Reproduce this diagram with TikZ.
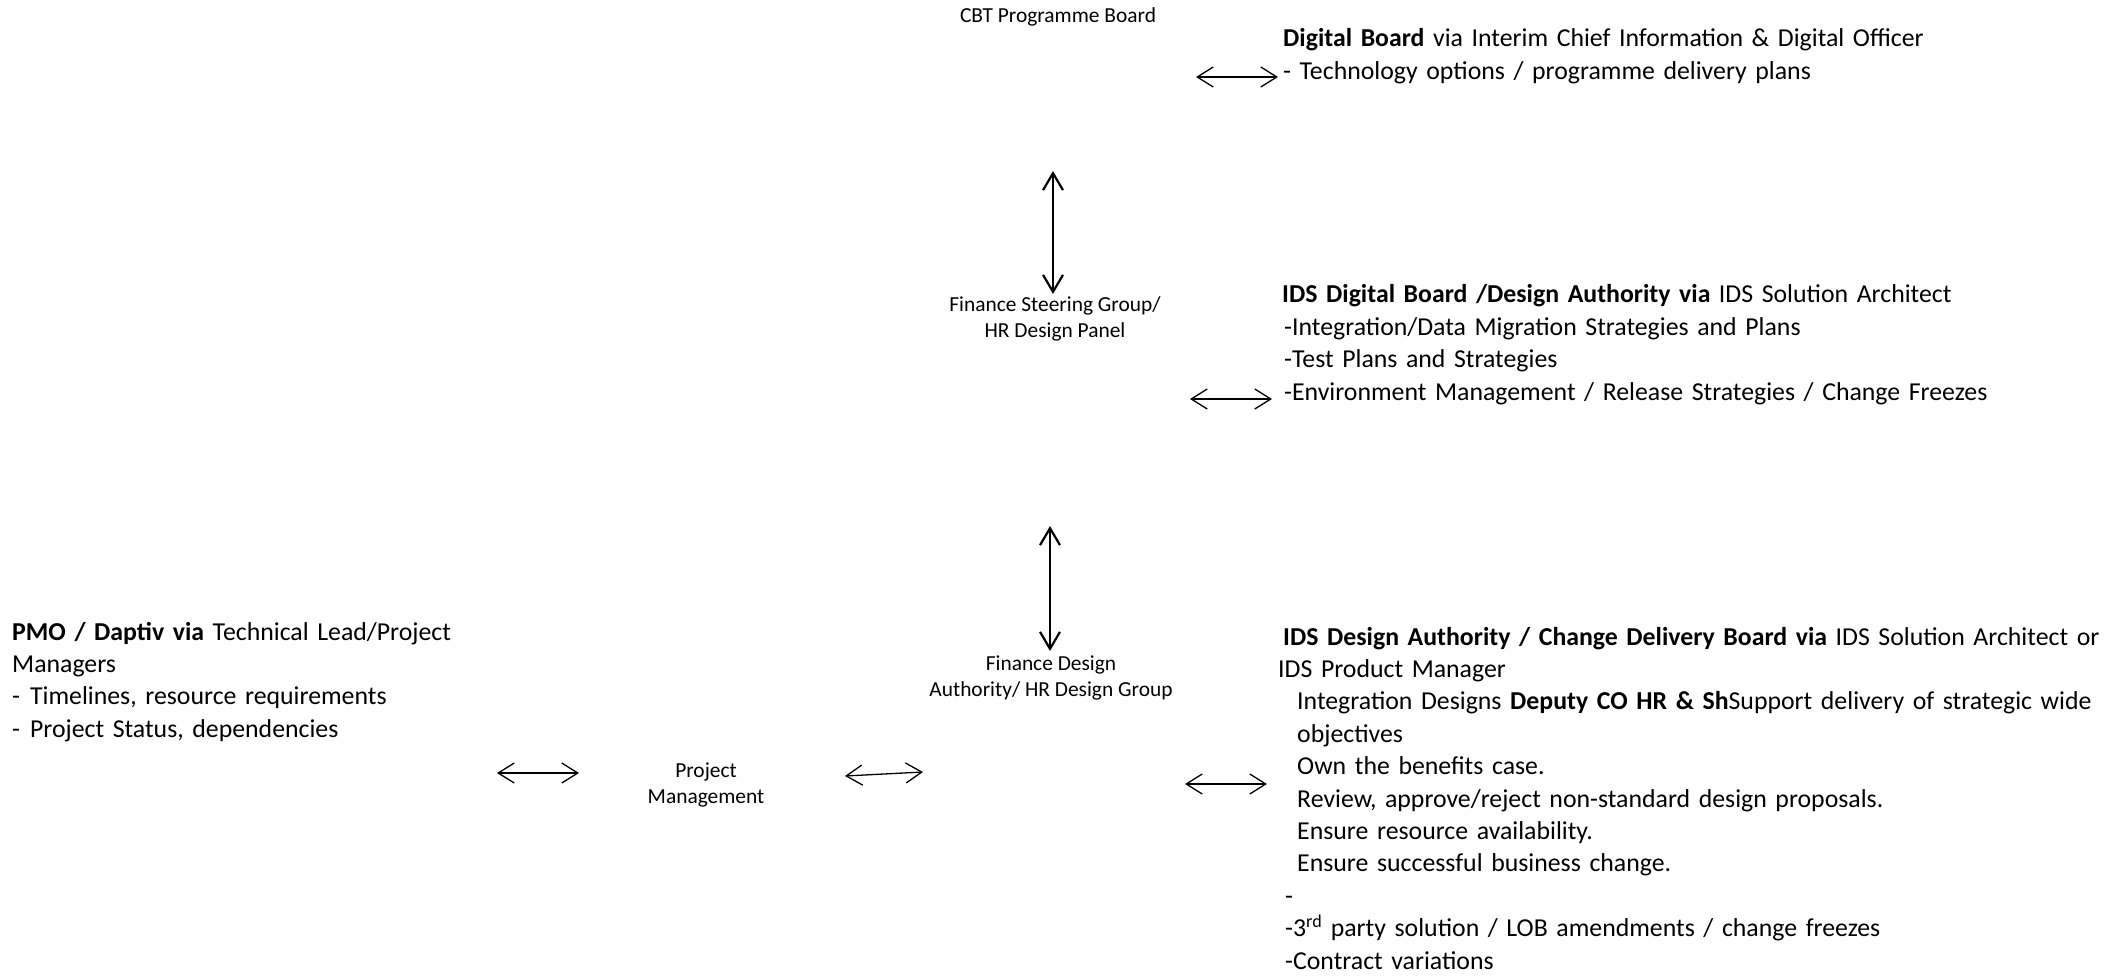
\documentclass[tikz,border=0pt]{standalone}
\usepackage{fontspec}
\setmainfont{Carlito}
\usetikzlibrary{arrows.meta}
\tikzset{
  big/.style={font={\fontsize{25.8}{32.4}\selectfont}, inner sep=0pt, anchor=base west, align=left, text width=900pt},
  small/.style={font={\fontsize{21.4}{25.5}\selectfont}, inner sep=0pt, align=center},
  harrow/.style={{Straight Barb[length=16pt,width=20pt]}-{Straight Barb[length=16pt,width=20pt]}, line width=1.3pt},
  varrow/.style={{Straight Barb[length=17pt,width=20pt]}-{Straight Barb[length=17pt,width=20pt]}, line width=2.2pt},
}
\begin{document}
\begin{tikzpicture}[x=1pt,y=-1pt]
\useasboundingbox[fill=white] (0,0) rectangle (2105,976);
% small labels
\node[small] (cbt) at (1058,17) {CBT Programme Board};
\node[small] (fsg) at (1055,319) {Finance Steering Group/\\HR Design Panel};
\node[small] (fda) at (1051,678) {Finance Design\\Authority/ HR Design Group};
\node[small] (pm) at (706,785) {Project\\Management};
% text blocks
\node[big] (db) at (1283,47) {\textbf{Digital Board} via Interim Chief Information \& Digital Officer\\
- Technology options / programme delivery plans};
\node[big] (idsdb) at (1282,303) {\textbf{IDS Digital Board /Design Authority via} IDS Solution Architect\\
\hspace*{2pt}-Integration/Data Migration Strategies and Plans\\
\hspace*{2pt}-Test Plans and Strategies\\
\hspace*{2pt}-Environment Management / Release Strategies / Change Freezes};
\node[big] (idsda) at (1278,645) {\hspace*{5pt}\textbf{IDS Design Authority / Change Delivery Board via} IDS Solution Architect or\\
IDS Product Manager\\
\hspace*{19pt}Integration Designs \textbf{Deputy CO HR \& Sh}Support delivery of strategic wide\\
\hspace*{19pt}objectives\\
\hspace*{19pt}Own the benefits case.\\
\hspace*{19pt}Review, approve/reject non-standard design proposals.\\
\hspace*{19pt}Ensure resource availability.\\
\hspace*{19pt}Ensure successful business change.\\
\hspace*{7pt}-\\
\hspace*{7pt}-3\textsuperscript{rd} party solution / LOB amendments / change freezes\\
\hspace*{7pt}-Contract variations};
\node[big] (pmo) at (12,640) {\textbf{PMO / Daptiv via} Technical Lead/Project\\
Managers\\
-\hspace{10pt}Timelines, resource requirements\\
-\hspace{10pt}Project Status, dependencies};
% arrow end points
\coordinate (a1l) at (1196,77);  \coordinate (a1r) at (1278,77);
\coordinate (a2t) at (1053,171); \coordinate (a2b) at (1053,294);
\coordinate (a3l) at (1190,399); \coordinate (a3r) at (1272,399);
\coordinate (a4t) at (1050,526); \coordinate (a4b) at (1050,651);
\coordinate (a5l) at (497,773);  \coordinate (a5r) at (579,773);
\coordinate (a6l) at (845,776);  \coordinate (a6r) at (923,772);
\coordinate (a7l) at (1185,784); \coordinate (a7r) at (1267,784);
\draw[harrow] (a1l) -- (a1r);
\draw[varrow] (a2t) -- (a2b);
\draw[harrow] (a3l) -- (a3r);
\draw[varrow] (a4t) -- (a4b);
\draw[harrow] (a5l) -- (a5r);
\draw[harrow] (a6l) -- (a6r);
\draw[harrow] (a7l) -- (a7r);
\end{tikzpicture}
\end{document}
